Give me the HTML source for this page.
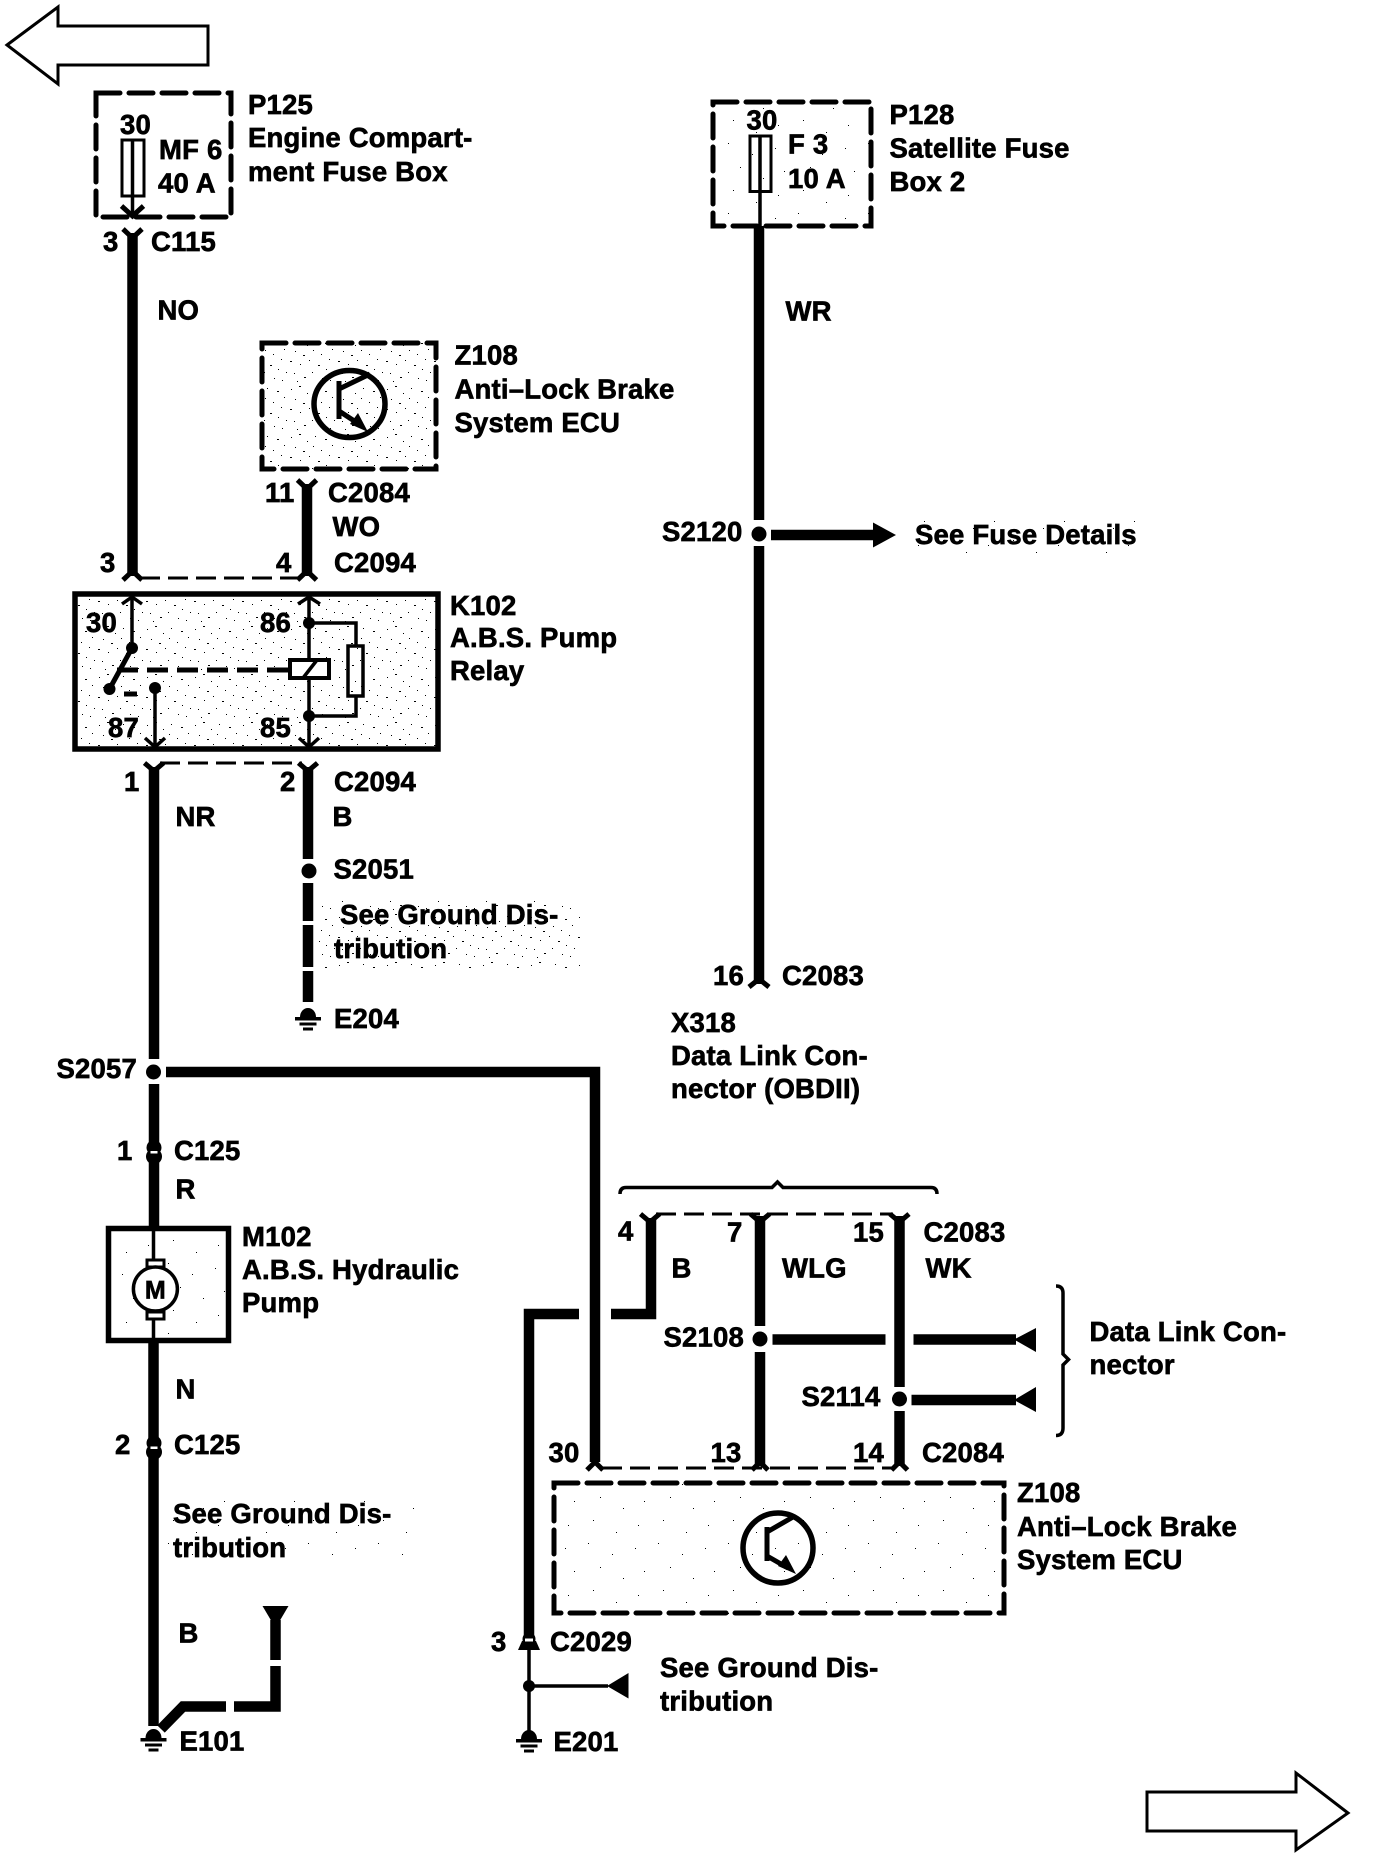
<!DOCTYPE html>
<html><head><meta charset="utf-8"><title>ABS wiring diagram</title>
<style>
html,body{margin:0;padding:0;background:#fff}
svg{display:block}
text{font-family:"Liberation Sans",sans-serif;font-weight:bold;font-size:27.5px;letter-spacing:.2px;fill:#000;stroke:#000;stroke-width:.65px}
.w{fill:none;stroke:#000;stroke-width:10.5}
.t{fill:none;stroke:#000;stroke-width:3.5}
.m{fill:none;stroke:#000;stroke-width:5}
.d{fill:none;stroke:#000;stroke-width:5;stroke-dasharray:24 9;stroke-linecap:round}
.h{fill:none;stroke:#000;stroke-width:3;stroke-dasharray:20 8}
.a{fill:#fff;stroke:#000;stroke-width:3}
</style></head><body>
<svg xmlns="http://www.w3.org/2000/svg" width="1376" height="1858" viewBox="0 0 1376 1858">
<defs>
<pattern id="sp" width="48" height="48" patternUnits="userSpaceOnUse">
<path d="M3 5h1v1h-1zM11 2h2v1h-2zM19 9h1v1h-1zM27 4h1v1h-1zM37 7h2v1h-2zM44 13h1v1h-1zM7 15h1v1h-1zM15 19h2v1h-2zM25 14h1v1h-1zM33 18h1v1h-1zM41 23h1v1h-1zM2 25h2v1h-2zM12 28h1v1h-1zM21 24h1v1h-1zM30 29h2v1h-2zM38 33h1v1h-1zM46 36h1v1h-1zM6 37h1v1h-1zM16 41h2v1h-2zM24 36h1v1h-1zM34 42h1v1h-1zM42 44h1v1h-1zM9 45h1v1h-1z" fill="#000"/>
</pattern>
<pattern id="sl" width="70" height="70" patternUnits="userSpaceOnUse">
<path d="M5 8h1v1h-1zM28 3h1v1h-1zM52 14h1v1h-1zM14 31h1v1h-1zM40 27h1v1h-1zM63 38h1v1h-1zM8 55h1v1h-1zM33 50h1v1h-1zM56 62h1v1h-1z" fill="#000"/>
</pattern>
<g id="gnd">
<path d="M-8 9 A8 9 0 0 1 8 9Z" fill="#000"/>
<rect x="-13" y="9" width="26" height="3.5" fill="#000"/>
<rect x="-8.500" y="14.500" width="17" height="3" fill="#000"/>
<rect x="-5" y="19.500" width="10" height="3" fill="#000"/>
</g>
<g id="cn">
<circle cx="0" cy="-4.500" r="7.500" fill="#000"/><circle cx="0" cy="4.500" r="8" fill="#000"/>
<rect x="-3.500" y="-1" width="7" height="2.500" fill="#fff"/>
</g>
</defs>

<!-- off page arrows -->
<path class="a" d="M7 45 L58 7 V26 H208 V65 H58 V84 Z"/>
<path class="a" d="M1147 1792 H1296 V1773 L1348 1813 L1296 1850 V1831 H1147 Z"/>

<!-- speckle -->
<rect x="262" y="343" width="174" height="126" fill="url(#sp)"/>
<rect x="713" y="102" width="158" height="124" fill="url(#sl)"/>
<rect x="75" y="594" width="363" height="155" fill="url(#sp)"/>
<rect x="108" y="1228" width="120" height="112" fill="url(#sl)"/>
<rect x="554" y="1482" width="450" height="132" fill="url(#sl)"/>
<rect x="319" y="901" width="261" height="67" fill="url(#sp)"/>
<rect x="160" y="1500" width="264" height="65" fill="url(#sl)"/>
<rect x="910" y="518" width="235" height="36" fill="url(#sl)"/>

<!-- P125 -->
<rect class="d" x="96" y="93" width="135" height="124"/>
<rect x="122" y="140" width="22" height="56" fill="#fff" stroke="#000" stroke-width="3"/>
<path class="t" d="M132.500 140V216"/>
<path class="m" d="M121.500 206 L132.500 216 L143.500 206"/>
<text x="120" y="134">30</text><text x="159" y="159">MF 6</text><text x="158" y="192.500">40 A</text>
<text x="248" y="114">P125</text><text x="248" y="147">Engine Compart-</text><text x="248" y="181">ment Fuse Box</text>

<!-- C115 wire -->
<path class="w" d="M132.500 233V576"/>
<path class="m" d="M123 229 L132.500 238 L142 229"/>
<path class="m" d="M123 580 L132.500 571 L142 580"/>
<text x="103" y="251">3</text><text x="151" y="251">C115</text><text x="157.500" y="319.500">NO</text>

<!-- Z108 top -->
<rect class="d" x="262" y="343" width="174" height="126"/>
<ellipse cx="349.500" cy="404" rx="35.500" ry="33.500" fill="none" stroke="#000" stroke-width="5.500"/>
<path class="m" d="M339 381V419M339 389L370 374M339 411L362 426"/>
<path d="M368 432L350 424L358 413Z" fill="#000"/>
<text x="454.500" y="364.500">Z108</text><text x="454.500" y="398.500">Anti–Lock Brake</text><text x="454.500" y="432">System ECU</text>

<!-- C2084 / WO -->
<path class="w" d="M307 484V576"/>
<path class="m" d="M297.500 480 L307 489 L316.500 480"/>
<path class="m" d="M297.500 580 L307 571 L316.500 580"/>
<text x="265" y="502">11</text><text x="328" y="502">C2084</text><text x="332.500" y="536">WO</text>
<text x="100" y="572">3</text><text x="276" y="572">4</text><text x="334" y="572">C2094</text>
<path class="h" d="M140 578H300"/>

<!-- K102 relay -->
<rect x="75" y="594" width="363" height="155" fill="none" stroke="#000" stroke-width="5.500"/>
<path class="t" d="M132 597V648"/>
<path class="t" d="M122 604L132 597L142 604"/>
<path class="m" d="M132 648L109.500 689"/>
<circle cx="132" cy="648" r="6" fill="#000"/><circle cx="109.500" cy="689" r="6" fill="#000"/>
<path class="m" stroke-dasharray="21 9" d="M117 670H290"/>
<path class="m" d="M124 694H137"/>
<circle cx="155" cy="688" r="6" fill="#000"/>
<path class="t" d="M155 688V747M145 738L155 747L165 738"/>
<path class="t" d="M309 597V747M298 604L309 597L320 604M299 738L309 747L319 738"/>
<circle cx="309" cy="623" r="6" fill="#000"/><circle cx="309" cy="716" r="6" fill="#000"/>
<path class="t" d="M309 623H356V646M356 696V716H309"/>
<rect x="348" y="646" width="15" height="50" fill="none" stroke="#000" stroke-width="3.500"/>
<rect x="290" y="660" width="39" height="18" fill="#fff" stroke="#000" stroke-width="4"/>
<path class="t" d="M303 678L317 660"/>
<text x="86" y="632">30</text><text x="260" y="632">86</text><text x="108" y="737">87</text><text x="260" y="737">85</text>
<text x="450" y="615">K102</text><text x="450" y="647">A.B.S. Pump</text><text x="450" y="680">Relay</text>

<!-- below relay -->
<path class="h" d="M160 763H302"/>
<path class="w" d="M154 767V1059"/>
<path class="w" d="M308 767V859"/>
<path class="m" d="M144.500 763 L154 771 L163.500 763"/>
<path class="m" d="M298.500 763 L308 771 L317.500 763"/>
<text x="124" y="791">1</text><text x="280" y="791">2</text><text x="334" y="791">C2094</text>
<text x="175.500" y="826">NR</text><text x="332.500" y="826">B</text>
<circle cx="309" cy="871" r="7.500" fill="#000"/>
<text x="333.500" y="878.500">S2051</text>
<path class="w" d="M308 883V921M308 925V967M308 971V1002"/>
<text x="340" y="924">See Ground Dis-</text><text x="334" y="958">tribution</text>
<use href="#gnd" x="308" y="1008"/>
<text x="334" y="1028">E204</text>

<!-- S2057 -->
<circle cx="153.500" cy="1072" r="7.500" fill="#000"/>
<text x="56.500" y="1078">S2057</text>
<path class="w" d="M166 1072H595V1462"/>
<path class="w" d="M154 1084V1228"/>
<use href="#cn" x="154" y="1152"/>
<text x="117" y="1160">1</text><text x="174" y="1160">C125</text><text x="175.500" y="1198.500">R</text>

<!-- M102 -->
<rect x="108.500" y="1228.500" width="120" height="112" fill="none" stroke="#000" stroke-width="5.500"/>
<path class="t" d="M153.500 1228V1262M153.500 1314V1340"/>
<rect x="147" y="1260" width="17" height="7" fill="#fff" stroke="#000" stroke-width="3"/>
<rect x="147" y="1312" width="17" height="7" fill="#fff" stroke="#000" stroke-width="3"/>
<circle cx="155.400" cy="1289" r="22" fill="#fff" stroke="#000" stroke-width="3.500"/>
<text x="155.400" y="1298.500" text-anchor="middle" style="font-size:25px">M</text>
<text x="242" y="1246">M102</text><text x="242" y="1279">A.B.S. Hydraulic</text><text x="242" y="1312">Pump</text>
<path class="w" d="M153.500 1340V1726"/>
<text x="175.500" y="1398.500">N</text>
<use href="#cn" x="154" y="1447.500"/>
<text x="115" y="1454">2</text><text x="174" y="1454">C125</text>
<text x="173" y="1523">See Ground Dis-</text><text x="173" y="1557">tribution</text>
<text x="178.500" y="1642.500">B</text>
<path d="M262.500 1606H288.500L275.500 1628Z" fill="#000"/>
<path class="w" d="M275.500 1620V1660M275.500 1666V1706.500H234M226 1706.500H183L161 1729"/>
<use href="#gnd" x="153.500" y="1729"/>
<text x="179.500" y="1750.500">E101</text>

<!-- left lower wire -->
<path class="w" d="M579 1314H529V1636"/>
<path class="w" d="M611 1314H651V1218"/>
<circle cx="529" cy="1639" r="6.500" fill="#000"/>
<path d="M522 1641H536L540 1650H518Z" fill="#000"/>
<rect x="525" y="1638.500" width="8" height="3" fill="#fff"/>
<path class="t" d="M529 1648V1732"/>
<circle cx="529" cy="1686" r="6" fill="#000"/>
<path class="t" d="M529 1686H608"/>
<path d="M607 1686L628.500 1673V1698.500Z" fill="#000"/>
<use href="#gnd" x="529" y="1730"/>
<text x="491" y="1651">3</text><text x="550" y="1651">C2029</text>
<text x="553.500" y="1751">E201</text>
<text x="660" y="1677">See Ground Dis-</text><text x="660" y="1710.500">tribution</text>

<!-- brace top -->
<path class="t" d="M620 1194Q620 1187.500 626 1187.500H772L777.500 1182L783 1187.500H931Q937 1187.500 937 1194"/>
<path class="h" d="M656 1214H893"/>
<path class="w" d="M760 1216V1326M760 1352V1466M899.500 1216V1387M899.500 1411V1466"/>
<path class="m" d="M640.500 1214L650 1222L659.500 1214M750.500 1214L760 1222L769.500 1214M890 1214L899.500 1222L909 1214"/>
<text x="618" y="1240.500">4</text><text x="727" y="1241.500">7</text><text x="853" y="1241.500">15</text><text x="923.500" y="1241.500">C2083</text>
<text x="671.500" y="1277.500">B</text><text x="782" y="1277.500">WLG</text><text x="925.500" y="1277.500">WK</text>
<circle cx="760" cy="1339" r="7.500" fill="#000"/><circle cx="899.500" cy="1399" r="7.500" fill="#000"/>
<text x="663.500" y="1346.500">S2108</text><text x="801.500" y="1406">S2114</text>
<path class="w" d="M772.500 1339.500H885.500M913.500 1339.500H1016M911.500 1400H1016"/>
<path d="M1014 1339.500L1036 1328V1352Z" fill="#000"/><path d="M1014 1400L1036 1387V1412Z" fill="#000"/>
<path class="t" d="M1056 1286Q1063 1286 1063 1293V1354L1068.500 1359.500L1063 1365V1428Q1063 1435.500 1056 1435.500"/>
<text x="1089.500" y="1341">Data Link Con-</text><text x="1089.500" y="1374">nector</text>

<!-- lower connector row -->
<text x="548.500" y="1462">30</text><text x="710.500" y="1462">13</text><text x="853" y="1462">14</text><text x="922" y="1462">C2084</text>
<path class="h" d="M602 1468H892"/>
<path class="m" d="M587 1470L595 1462L603 1470M752 1470L760 1462L768 1470M891.500 1470L899.500 1462L907.500 1470"/>

<!-- Z108 lower -->
<rect class="d" x="554" y="1483" width="450" height="130"/>
<ellipse cx="778" cy="1548" rx="35" ry="35" fill="none" stroke="#000" stroke-width="5.500"/>
<path class="m" d="M767 1527V1561M767 1532L793 1517M767 1556L788 1568"/>
<path d="M796 1574L778 1566L786 1555Z" fill="#000"/>
<text x="1017" y="1502">Z108</text><text x="1017" y="1536">Anti–Lock Brake</text><text x="1017" y="1569">System ECU</text>

<!-- P128 -->
<rect class="d" x="713" y="102" width="158" height="124"/>
<rect x="750" y="136" width="21" height="55.500" fill="none" stroke="#000" stroke-width="3"/>
<path class="t" d="M760 136V226"/>
<text x="746.500" y="129.500">30</text><text x="788" y="153.500">F 3</text><text x="788" y="188">10 A</text>
<text x="889.500" y="124">P128</text><text x="889.500" y="157.500">Satellite Fuse</text><text x="889.500" y="191">Box 2</text>
<path class="w" d="M759 226V520M759 546V984"/>
<text x="785.500" y="320.500">WR</text>
<circle cx="759" cy="534" r="7.500" fill="#000"/>
<text x="662" y="541">S2120</text>
<path class="w" d="M771 535H875"/>
<path d="M873 522.500L896 535L873 547.500Z" fill="#000"/>
<text x="915" y="544">See Fuse Details</text>
<path class="m" d="M749 987L759 979L769 987"/>
<text x="713" y="985">16</text><text x="782" y="985">C2083</text>
<text x="671" y="1032">X318</text><text x="671" y="1065">Data Link Con-</text><text x="671" y="1098">nector (OBDII)</text>
</svg>
</body></html>
